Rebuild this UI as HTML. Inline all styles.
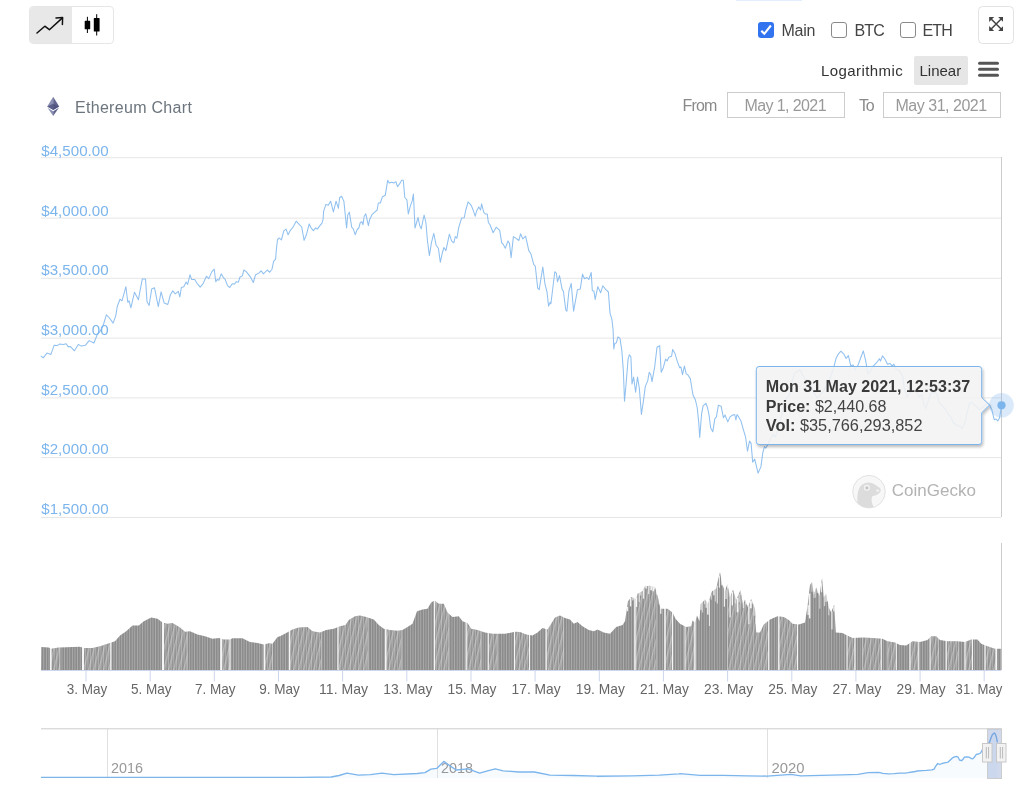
<!DOCTYPE html>
<html lang="en">
<head>
<meta charset="utf-8">
<title>Ethereum Chart</title>
<style>
html,body{margin:0;padding:0;background:#fff;}
body{width:1024px;height:795px;position:relative;overflow:hidden;font-family:"Liberation Sans",Arial,sans-serif;color:#333;}
.abs{position:absolute;white-space:nowrap;}
.btn-group{left:28.5px;top:6px;width:85px;height:38px;border:1px solid #e6e6e6;border-radius:4px;box-sizing:border-box;overflow:hidden;background:#fff;}
.btn-group .active{position:absolute;left:0;top:0;width:42.3px;height:36px;background:#e8e8e8;}
.fs-btn{left:978px;top:6px;width:36px;height:38px;border:1px solid #e2e2e2;border-radius:4.5px;box-sizing:border-box;background:#fff;}
.cb{width:16px;height:16px;box-sizing:border-box;border-radius:3px;top:22px;}
.cb.on{background:#3273f0;left:758.2px;top:22.2px;}
.cb.off{border:1px solid #8a8a8a;background:#fff;}
.lbl{font-size:16px;line-height:20px;top:21px;color:#444;}
.scale{font-size:15px;line-height:20px;top:61px;color:#333;}
.linear-bg{left:914px;top:56px;width:54px;height:29px;background:#e6e6e6;border-radius:2px;}
.dl{font-size:16px;line-height:20px;top:96px;color:#8a8a8a;}
.inp{top:91.5px;height:26.5px;border:1px solid #ccc;box-sizing:border-box;background:#fff;}
.inp span{position:absolute;top:3px;font-size:16px;line-height:20px;color:#999;}
.title{left:75px;top:98px;font-size:16px;line-height:20px;color:#6c757d;letter-spacing:0.3px;}
svg text{font-family:"Liberation Sans",Arial,sans-serif;}
</style>
</head>
<body>
<div class="abs" style="left:736px;top:0;width:66px;height:1px;background:#e3edfb;"></div>

<div class="abs btn-group">
  <div class="active"></div>
  <svg class="abs" style="left:0;top:0" width="83" height="36" viewBox="30.1 7 83 36">
    <path d="M37.1 33 L44.9 26.2 L49.5 29.7 L62.5 17.9" fill="none" stroke="#111" stroke-width="1.5" stroke-linecap="round" stroke-linejoin="round"/>
    <path d="M56.1 18 L62.7 17.5 L62.5 24.4" fill="none" stroke="#111" stroke-width="1.5" stroke-linecap="round" stroke-linejoin="round"/>
    <rect x="84.8" y="20.8" width="5.5" height="8.5" rx="0.6" fill="#000"/>
    <path d="M87.5 16.8 V33" stroke="#000" stroke-width="1"/>
    <rect x="93.9" y="18.1" width="5.8" height="13.4" rx="0.6" fill="#000"/>
    <path d="M96.8 14.2 V35.5" stroke="#000" stroke-width="1"/>
  </svg>
</div>

<div class="abs cb on" style="left:758px;">
  <svg width="16" height="16" viewBox="0 0 16 16"><path d="M3.3 8.8 L6.3 11.8 L12.9 3.5" fill="none" stroke="#fff" stroke-width="2.1" stroke-linejoin="miter"/></svg>
</div>
<div class="abs lbl" style="left:781.5px;letter-spacing:-0.25px;">Main</div>
<div class="abs cb off" style="left:831px;"></div>
<div class="abs lbl" style="left:854.5px;letter-spacing:-0.9px;">BTC</div>
<div class="abs cb off" style="left:900px;"></div>
<div class="abs lbl" style="left:922.5px;letter-spacing:-0.9px;">ETH</div>

<div class="abs fs-btn">
  <svg class="abs" style="left:10.2px;top:9.9px" width="14.3" height="14" viewBox="0 0 14 14">
    <path d="M2 2 L12 12 M12 2 L2 12" stroke="#444" stroke-width="1.5" fill="none"/>
    <path d="M0 0 H5 L0 5 Z M14 0 V5 L9 0 Z M0 14 V9 L5 14 Z M14 14 H9 L14 9 Z" fill="#444"/>
  </svg>
</div>

<div class="abs scale" id="log" style="left:821px;letter-spacing:0.42px;">Logarithmic</div>
<div class="abs linear-bg"></div>
<div class="abs scale" id="lin" style="left:919.5px;">Linear</div>
<svg class="abs" style="left:977px;top:60.6px" width="23" height="17" viewBox="0 0 23 17">
  <rect x="1" y="0.8" width="21" height="3" rx="1.5" fill="#555"/>
  <rect x="1" y="6.8" width="21" height="3" rx="1.5" fill="#555"/>
  <rect x="1" y="12.8" width="21" height="3" rx="1.5" fill="#555"/>
</svg>

<svg class="abs" style="left:46px;top:96px" width="14" height="21" viewBox="46 96 14 21">
  <path d="M53.2 96.7 L47.2 106.4 L53.2 109.9 Z" fill="#8a90b4"/>
  <path d="M53.2 96.7 L59.2 106.4 L53.2 109.9 Z" fill="#62668f"/>
  <path d="M47.2 106.4 L53.2 103.8 L59.2 106.4 L53.2 109.9 Z" fill="#4a4e7a" opacity="0.75"/>
  <path d="M47.5 107.8 L53.2 111.3 L53.2 115.9 Z" fill="#8a90b4"/>
  <path d="M58.9 107.8 L53.2 111.3 L53.2 115.9 Z" fill="#62668f"/>
</svg>
<div class="abs title" id="title">Ethereum Chart</div>

<div class="abs dl" id="from" style="left:682.5px;letter-spacing:-0.85px;">From</div>
<div class="abs inp" style="left:727px;width:117.5px;"><span id="d1" style="left:16.5px;letter-spacing:-0.6px;">May 1, 2021</span></div>
<div class="abs dl" id="to" style="left:859px;letter-spacing:-1.3px;">To</div>
<div class="abs inp" style="left:883px;width:117.5px;"><span id="d2" style="left:11.5px;letter-spacing:-0.48px;">May 31, 2021</span></div>

<svg class="abs" style="left:0;top:0" width="1024" height="795" viewBox="0 0 1024 795">
  <defs>
    <pattern id="bars" width="2.6" height="10" patternUnits="userSpaceOnUse">
      <rect width="2.6" height="10" fill="#b4b4b4"/>
      <rect width="1.9" height="10" fill="#8c8c8c"/>
    </pattern>
    <pattern id="diag" width="5" height="40" patternUnits="userSpaceOnUse" patternTransform="skewX(-14)">
      <rect x="0" y="0" width="1.6" height="40" fill="#fff" opacity="0.33"/>
      <rect x="2.6" y="0" width="0.8" height="40" fill="#fff" opacity="0.2"/>
    </pattern>
    <clipPath id="volclip"><path d="M41 670 L41.2 647.0 L48.8 647.5 L51.2 648.8 L58.8 647.5 L80.0 646.8 L83.8 648.0 L92.5 648.0 L100.0 646.2 L107.5 643.8 L115.0 641.2 L120.0 635.5 L126.2 631.2 L132.5 625.5 L138.8 625.5 L143.8 621.2 L151.2 617.5 L157.5 618.8 L162.5 622.5 L167.5 623.8 L172.5 623.0 L180.0 627.5 L185.0 631.8 L190.0 631.2 L197.5 634.5 L205.0 636.2 L212.5 638.8 L218.8 638.0 L223.8 639.5 L230.0 639.5 L232.5 638.2 L242.5 638.2 L250.0 642.0 L257.5 643.0 L263.8 644.5 L268.8 643.2 L272.5 643.8 L277.5 637.0 L280.0 636.2 L286.2 633.0 L292.5 629.5 L298.8 627.5 L307.5 627.0 L312.5 631.2 L320.0 632.5 L326.2 630.0 L333.8 628.8 L340.0 626.2 L345.5 625.0 L348.8 620.0 L355.0 616.2 L360.0 615.5 L366.2 617.0 L373.8 619.5 L378.8 625.0 L383.8 628.8 L390.0 630.0 L397.5 630.8 L402.5 630.0 L407.5 627.0 L412.5 623.8 L417.0 611.2 L422.5 609.5 L427.5 608.8 L431.2 602.5 L434.5 600.5 L438.8 603.8 L443.8 603.8 L447.5 612.5 L452.5 617.0 L458.8 616.2 L462.5 621.2 L467.5 623.0 L471.2 628.8 L477.5 630.0 L485.0 632.5 L492.5 633.8 L505.0 633.8 L515.0 631.8 L520.0 632.0 L526.2 634.5 L532.5 635.5 L537.5 632.5 L542.5 628.0 L547.5 629.5 L551.2 623.8 L555.0 617.5 L560.0 615.5 L565.0 618.0 L570.0 619.5 L573.8 623.8 L577.5 622.0 L582.5 626.2 L588.8 630.0 L593.8 631.2 L597.5 629.5 L603.8 632.5 L610.0 633.8 L616.2 627.0 L622.5 625.0 L625.0 621.2 L628.0 601.2 L631.2 597.0 L636.2 598.8 L637.5 593.8 L642.5 591.2 L645.0 586.2 L650.0 585.8 L655.0 587.0 L658.0 597.5 L660.5 608.8 L667.5 608.8 L672.5 612.5 L675.5 618.8 L680.0 623.8 L686.2 627.0 L691.2 626.2 L692.5 620.5 L695.0 622.5 L697.0 615.5 L699.5 621.2 L700.5 604.5 L705.0 599.5 L708.0 603.8 L712.0 591.2 L716.2 588.8 L718.0 580.0 L720.0 572.0 L722.0 583.8 L725.0 591.2 L727.5 583.8 L730.0 597.5 L733.0 589.5 L736.2 600.0 L740.5 590.0 L743.0 605.0 L745.0 599.5 L748.0 607.5 L751.2 598.8 L755.0 608.8 L756.2 632.5 L760.0 632.5 L763.8 624.5 L770.0 619.5 L777.5 616.2 L783.8 617.0 L788.8 620.0 L792.5 623.8 L798.8 624.5 L805.0 622.5 L807.5 606.2 L810.0 585.0 L812.0 582.0 L813.8 595.0 L816.2 587.5 L819.5 596.2 L822.0 578.0 L823.8 597.5 L826.2 593.8 L828.8 607.5 L831.2 612.5 L834.2 604.5 L835.8 632.5 L842.5 633.0 L846.2 635.0 L852.5 638.0 L862.5 637.5 L872.5 638.0 L882.5 638.8 L887.5 641.2 L895.0 642.5 L900.0 645.0 L906.2 645.5 L912.5 641.2 L920.0 642.0 L927.5 640.0 L931.2 636.2 L936.2 636.2 L940.0 640.0 L947.5 641.2 L957.5 641.2 L965.0 642.0 L971.2 639.5 L977.5 639.5 L981.2 643.8 L987.5 646.2 L995.0 648.8 L1001.2 648.8 L1001.2 670 Z"/></clipPath>
    <filter id="sh" x="-10%" y="-10%" width="120%" height="130%">
      <feGaussianBlur in="SourceAlpha" stdDeviation="1.5"/>
      <feOffset dx="1" dy="1.5"/>
      <feComponentTransfer><feFuncA type="linear" slope="0.3"/></feComponentTransfer>
      <feMerge><feMergeNode/><feMergeNode in="SourceGraphic"/></feMerge>
    </filter>
  </defs>
  <!-- grid -->
  <path d="M41 157.7 H1001" stroke="#e6e6e6" stroke-width="1"/><path d="M41 218.1 H1001" stroke="#e6e6e6" stroke-width="1"/><path d="M41 278.3 H1001" stroke="#e6e6e6" stroke-width="1"/><path d="M41 338.1 H1001" stroke="#e6e6e6" stroke-width="1"/><path d="M41 397.9 H1001" stroke="#e6e6e6" stroke-width="1"/><path d="M41 457.6 H1001" stroke="#e6e6e6" stroke-width="1"/><path d="M41 517.5 H1001" stroke="#e6e6e6" stroke-width="1"/>
  <g font-size="15" fill="#7cb5ec"><text x="41.3" y="155.8" textLength="67.3" lengthAdjust="spacingAndGlyphs">$4,500.00</text><text x="41.3" y="215.5" textLength="67.3" lengthAdjust="spacingAndGlyphs">$4,000.00</text><text x="41.3" y="275.2" textLength="67.3" lengthAdjust="spacingAndGlyphs">$3,500.00</text><text x="41.3" y="335.0" textLength="67.3" lengthAdjust="spacingAndGlyphs">$3,000.00</text><text x="41.3" y="394.7" textLength="67.3" lengthAdjust="spacingAndGlyphs">$2,500.00</text><text x="41.3" y="454.4" textLength="67.3" lengthAdjust="spacingAndGlyphs">$2,000.00</text><text x="41.3" y="514.1" textLength="67.3" lengthAdjust="spacingAndGlyphs">$1,500.00</text></g>
  <!-- crosshair -->
  <path d="M1001.5 157 V517 M1001.5 543 V670" stroke="#cccccc" stroke-width="1"/>
  <!-- price line -->
  <path d="M41.2 356.2 L43.1 357.8 L47.0 353.1 L50.9 354.4 L54.1 345.3 L57.2 345.6 L59.5 344.1 L63.4 344.4 L66.2 343.8 L68.1 346.6 L70.5 346.6 L74.4 350.8 L78.3 344.5 L81.4 346.1 L85.3 345.3 L89.2 340.6 L93.9 343.0 L97.0 335.2 L100.2 331.2 L103.3 325.0 L106.4 314.8 L109.5 318.0 L113.1 323.1 L115.8 315.6 L117.3 306.2 L120.0 299.2 L122.0 300.8 L125.9 286.7 L127.8 302.3 L129.1 300.8 L130.9 307.8 L134.5 292.2 L138.4 299.7 L142.3 278.9 L145.5 278.9 L147.0 301.6 L149.1 305.5 L151.7 289.1 L154.5 287.8 L158.3 306.6 L161.1 291.9 L164.2 303.1 L167.8 304.4 L170.5 294.5 L172.8 290.9 L175.2 293.8 L178.3 291.4 L179.8 296.9 L181.4 287.5 L183.8 286.7 L186.1 282.0 L187.7 284.4 L190.0 274.7 L191.6 279.4 L194.7 279.4 L197.0 283.3 L200.2 287.2 L203.3 283.3 L206.4 276.2 L208.8 278.6 L211.9 271.6 L214.2 269.2 L215.8 281.7 L217.3 279.4 L218.9 280.2 L221.2 273.9 L223.6 277.8 L225.2 279.4 L227.5 285.6 L229.8 287.5 L232.2 283.8 L234.5 284.1 L236.1 281.7 L238.4 282.2 L240.0 277.0 L242.3 275.9 L243.9 270.0 L246.2 271.6 L250.2 276.6 L253.3 282.5 L255.6 274.7 L258.8 273.1 L261.1 270.8 L263.4 273.9 L267.3 270.0 L269.7 272.3 L272.0 269.2 L273.6 261.4 L275.6 259.1 L276.2 251.2 L277.5 239.5 L279.4 238.0 L281.4 240.0 L283.8 230.9 L286.1 229.1 L288.1 234.8 L290.0 230.9 L293.1 227.0 L296.2 221.2 L299.4 224.7 L301.7 227.0 L304.1 240.3 L306.4 234.8 L309.2 223.9 L311.1 227.8 L313.4 230.6 L315.8 227.8 L317.3 229.1 L319.7 225.9 L322.0 223.1 L323.1 219.2 L323.6 211.4 L325.9 204.4 L328.3 205.2 L330.6 201.2 L333.4 211.9 L336.1 201.2 L338.4 208.3 L339.7 197.3 L340.0 197.5 L341.6 196.2 L343.9 201.4 L346.6 228.0 L347.8 214.7 L349.4 212.3 L351.7 227.2 L353.3 228.8 L355.2 234.7 L357.2 229.5 L358.8 228.0 L360.3 222.5 L361.9 221.7 L363.0 224.8 L364.2 216.2 L365.8 213.9 L368.4 225.6 L369.7 219.4 L372.0 214.7 L374.4 212.3 L377.2 210.0 L378.3 203.0 L380.3 203.0 L382.5 196.7 L385.3 195.2 L387.7 180.3 L389.2 183.1 L391.6 182.2 L393.9 183.1 L395.9 181.6 L397.5 186.6 L399.4 184.2 L401.7 180.3 L403.3 180.3 L404.8 197.5 L406.9 199.8 L408.3 213.9 L410.3 206.1 L412.2 200.9 L413.4 194.1 L415.0 228.0 L416.6 222.5 L418.1 217.5 L419.7 225.6 L421.2 228.8 L424.1 215.0 L425.9 222.5 L427.5 241.2 L429.4 255.6 L431.4 242.8 L433.8 233.4 L436.1 245.2 L438.4 248.3 L440.3 262.3 L442.3 253.0 L443.9 247.5 L445.9 250.6 L449.4 234.2 L451.7 241.2 L453.8 242.8 L455.3 236.6 L456.9 238.1 L458.8 227.2 L461.6 218.1 L464.2 217.8 L465.8 210.0 L468.1 201.9 L471.2 205.3 L472.8 209.2 L475.2 216.2 L476.7 210.8 L478.8 206.9 L480.6 210.0 L481.6 203.8 L483.8 212.3 L485.3 213.9 L487.2 213.9 L488.4 222.5 L490.0 224.8 L493.1 232.7 L496.2 227.2 L499.7 230.3 L501.7 242.8 L503.3 244.4 L505.3 248.3 L508.0 240.9 L509.5 243.6 L511.1 257.7 L513.4 236.6 L515.8 238.1 L518.9 240.5 L520.5 233.8 L522.8 238.9 L525.6 236.2 L528.8 250.6 L530.9 253.8 L533.8 264.7 L535.3 266.2 L537.7 288.1 L539.2 289.7 L542.8 267.0 L545.0 284.2 L547.0 292.0 L548.6 306.1 L550.2 302.2 L550.9 303.8 L554.8 271.7 L556.4 273.3 L557.5 281.9 L559.5 275.6 L562.2 289.7 L563.4 291.2 L565.8 310.0 L566.9 311.2 L568.9 291.2 L571.2 283.4 L573.6 311.2 L577.5 289.7 L580.3 288.9 L582.5 274.1 L584.5 278.8 L586.9 277.5 L588.8 279.5 L591.2 272.5 L592.3 290.5 L593.9 291.2 L595.2 299.4 L597.8 286.6 L600.6 292.8 L602.8 285.8 L605.6 289.4 L608.4 292.0 L610.0 313.1 L611.9 319.4 L613.1 330.0 L613.8 348.9 L614.8 343.4 L616.4 342.7 L618.0 336.9 L620.0 338.4 L621.9 351.2 L623.4 371.6 L624.5 401.2 L626.2 382.5 L628.1 359.1 L629.4 354.7 L630.9 356.7 L632.0 384.1 L633.6 377.0 L635.6 392.2 L637.5 377.0 L639.4 388.8 L641.4 414.5 L643.4 401.2 L645.3 386.4 L647.7 380.9 L649.2 372.3 L650.8 374.7 L652.0 381.7 L654.7 366.9 L657.0 347.3 L659.7 345.8 L661.2 372.3 L663.3 367.7 L665.6 359.1 L667.2 360.9 L668.8 357.2 L671.6 356.2 L672.7 349.4 L675.0 353.6 L677.3 361.4 L679.7 367.7 L680.9 366.9 L682.5 374.7 L684.4 366.1 L686.2 373.9 L687.8 374.7 L690.3 378.6 L693.0 395.0 L695.3 399.7 L697.2 407.5 L698.8 423.1 L699.7 437.5 L701.6 413.8 L703.1 405.9 L705.9 403.3 L707.5 407.5 L709.1 415.3 L710.6 427.8 L712.8 431.7 L714.8 418.8 L716.4 416.9 L718.4 405.2 L721.1 406.2 L723.4 417.7 L725.0 415.0 L727.8 421.9 L730.0 416.9 L732.3 415.3 L734.7 414.5 L735.9 420.0 L737.0 414.5 L738.6 416.9 L740.9 420.8 L743.3 429.4 L745.6 437.2 L747.5 451.2 L749.5 441.1 L751.1 443.4 L752.7 462.2 L754.7 459.1 L756.2 465.3 L758.1 473.1 L760.9 466.9 L762.8 452.8 L764.4 446.6 L765.9 448.1 L767.5 445.0 L770.6 438.8 L773.0 434.1 L775.3 437.2 L776.9 432.5 L780.0 421.6 L782.3 412.2 L784.7 401.2 L787.0 398.1 L790.2 393.4 L792.5 379.4 L794.8 373.1 L800.0 369.7 L804.7 379.1 L809.4 380.6 L813.3 391.6 L817.2 397.8 L823.4 391.6 L829.7 379.1 L833.6 368.1 L835.9 358.8 L838.3 354.1 L840.9 351.2 L843.8 354.1 L846.1 358.4 L848.4 355.6 L850.8 365.8 L853.1 365.0 L855.0 369.7 L858.1 365.0 L860.9 357.2 L863.3 350.9 L865.6 360.3 L868.0 373.6 L870.3 371.2 L873.4 365.8 L876.6 362.7 L879.4 358.8 L880.5 361.1 L882.5 355.9 L885.2 359.5 L887.5 364.2 L889.8 363.4 L892.2 365.8 L893.8 364.2 L896.1 368.9 L900.0 371.2 L903.1 377.5 L904.0 387.5 L906.9 396.9 L911.0 392.2 L915.7 391.0 L919.2 396.9 L921.6 394.5 L923.9 405.1 L925.7 408.6 L928.0 401.6 L930.4 393.9 L933.3 392.2 L936.8 393.4 L939.2 402.7 L941.5 405.1 L945.0 408.6 L948.5 414.5 L950.9 416.8 L953.2 422.7 L956.7 425.0 L960.3 426.8 L962.0 428.5 L964.9 422.7 L967.3 412.1 L969.6 402.7 L972.0 402.7 L974.3 405.1 L976.7 406.3 L979.0 409.8 L981.3 408.6 L984.9 405.1 L987.2 403.3 L989.6 405.1 L991.9 409.8 L994.2 419.7 L996.0 419.1 L997.8 420.9 L999.5 418.0 L1000.7 410.9 L1001.6 405.3" fill="none" stroke="#7cb5ec" stroke-width="1.05" stroke-linejoin="round" stroke-linecap="round" opacity="0.85"/>
  <!-- watermark -->
  <g>
    <circle cx="869" cy="491.7" r="16.3" fill="#f7f7f7" stroke="#e2e2e2" stroke-width="1"/>
    <path d="M857.5 503 C857 494 858 486 864 483.5 C869 481.5 873 483 877 486 C880 487.5 881.5 489.5 880.5 491.5 C879 494.5 875 495.5 872 496.5 C871 500 872 504 873.5 507 C867 509 861 507 857.5 503 Z" fill="#dcdcdc"/>
    <circle cx="866.9" cy="487.8" r="3" fill="#f4f4f4"/>
    <circle cx="866.9" cy="487.8" r="1.6" fill="#c4c4c4"/>
    <ellipse cx="877.6" cy="490.6" rx="1.6" ry="1.2" fill="#f2f2f2"/>
    <text x="891.8" y="495.8" font-size="17" fill="#b3b3b3" textLength="84.2" lengthAdjust="spacingAndGlyphs">CoinGecko</text>
  </g>
  <!-- volume -->
  <path d="M41 670 L41.2 647.0 L48.8 647.5 L51.2 648.8 L58.8 647.5 L80.0 646.8 L83.8 648.0 L92.5 648.0 L100.0 646.2 L107.5 643.8 L115.0 641.2 L120.0 635.5 L126.2 631.2 L132.5 625.5 L138.8 625.5 L143.8 621.2 L151.2 617.5 L157.5 618.8 L162.5 622.5 L167.5 623.8 L172.5 623.0 L180.0 627.5 L185.0 631.8 L190.0 631.2 L197.5 634.5 L205.0 636.2 L212.5 638.8 L218.8 638.0 L223.8 639.5 L230.0 639.5 L232.5 638.2 L242.5 638.2 L250.0 642.0 L257.5 643.0 L263.8 644.5 L268.8 643.2 L272.5 643.8 L277.5 637.0 L280.0 636.2 L286.2 633.0 L292.5 629.5 L298.8 627.5 L307.5 627.0 L312.5 631.2 L320.0 632.5 L326.2 630.0 L333.8 628.8 L340.0 626.2 L345.5 625.0 L348.8 620.0 L355.0 616.2 L360.0 615.5 L366.2 617.0 L373.8 619.5 L378.8 625.0 L383.8 628.8 L390.0 630.0 L397.5 630.8 L402.5 630.0 L407.5 627.0 L412.5 623.8 L417.0 611.2 L422.5 609.5 L427.5 608.8 L431.2 602.5 L434.5 600.5 L438.8 603.8 L443.8 603.8 L447.5 612.5 L452.5 617.0 L458.8 616.2 L462.5 621.2 L467.5 623.0 L471.2 628.8 L477.5 630.0 L485.0 632.5 L492.5 633.8 L505.0 633.8 L515.0 631.8 L520.0 632.0 L526.2 634.5 L532.5 635.5 L537.5 632.5 L542.5 628.0 L547.5 629.5 L551.2 623.8 L555.0 617.5 L560.0 615.5 L565.0 618.0 L570.0 619.5 L573.8 623.8 L577.5 622.0 L582.5 626.2 L588.8 630.0 L593.8 631.2 L597.5 629.5 L603.8 632.5 L610.0 633.8 L616.2 627.0 L622.5 625.0 L625.0 621.2 L628.0 601.2 L631.2 597.0 L636.2 598.8 L637.5 593.8 L642.5 591.2 L645.0 586.2 L650.0 585.8 L655.0 587.0 L658.0 597.5 L660.5 608.8 L667.5 608.8 L672.5 612.5 L675.5 618.8 L680.0 623.8 L686.2 627.0 L691.2 626.2 L692.5 620.5 L695.0 622.5 L697.0 615.5 L699.5 621.2 L700.5 604.5 L705.0 599.5 L708.0 603.8 L712.0 591.2 L716.2 588.8 L718.0 580.0 L720.0 572.0 L722.0 583.8 L725.0 591.2 L727.5 583.8 L730.0 597.5 L733.0 589.5 L736.2 600.0 L740.5 590.0 L743.0 605.0 L745.0 599.5 L748.0 607.5 L751.2 598.8 L755.0 608.8 L756.2 632.5 L760.0 632.5 L763.8 624.5 L770.0 619.5 L777.5 616.2 L783.8 617.0 L788.8 620.0 L792.5 623.8 L798.8 624.5 L805.0 622.5 L807.5 606.2 L810.0 585.0 L812.0 582.0 L813.8 595.0 L816.2 587.5 L819.5 596.2 L822.0 578.0 L823.8 597.5 L826.2 593.8 L828.8 607.5 L831.2 612.5 L834.2 604.5 L835.8 632.5 L842.5 633.0 L846.2 635.0 L852.5 638.0 L862.5 637.5 L872.5 638.0 L882.5 638.8 L887.5 641.2 L895.0 642.5 L900.0 645.0 L906.2 645.5 L912.5 641.2 L920.0 642.0 L927.5 640.0 L931.2 636.2 L936.2 636.2 L940.0 640.0 L947.5 641.2 L957.5 641.2 L965.0 642.0 L971.2 639.5 L977.5 639.5 L981.2 643.8 L987.5 646.2 L995.0 648.8 L1001.2 648.8 L1001.2 670 Z" fill="url(#bars)"/>
  <g clip-path="url(#volclip)"><rect x="50.8" y="560" width="9.2" height="110" fill="url(#diag)"/><rect x="83.0" y="560" width="27.8" height="110" fill="url(#diag)"/><rect x="163.0" y="560" width="24.5" height="110" fill="url(#diag)"/><rect x="221.2" y="560" width="8.8" height="110" fill="url(#diag)"/><rect x="264.5" y="560" width="8.0" height="110" fill="url(#diag)"/><rect x="289.5" y="560" width="31.8" height="110" fill="url(#diag)"/><rect x="338.0" y="560" width="30.0" height="110" fill="url(#diag)"/><rect x="385.8" y="560" width="15.5" height="110" fill="url(#diag)"/><rect x="434.5" y="560" width="14.2" height="110" fill="url(#diag)"/><rect x="466.2" y="560" width="15.0" height="110" fill="url(#diag)"/><rect x="488.2" y="560" width="9.2" height="110" fill="url(#diag)"/><rect x="514.5" y="560" width="15.0" height="110" fill="url(#diag)"/><rect x="546.2" y="560" width="17.5" height="110" fill="url(#diag)"/><rect x="635.0" y="560" width="21.2" height="110" fill="url(#diag)"/><rect x="665.0" y="560" width="7.5" height="110" fill="url(#diag)"/><rect x="685.0" y="560" width="10.0" height="110" fill="url(#diag)"/><rect x="727.5" y="560" width="41.2" height="110" fill="url(#diag)"/><rect x="778.8" y="560" width="18.8" height="110" fill="url(#diag)"/><rect x="847.0" y="560" width="8.0" height="110" fill="url(#diag)"/><rect x="862.5" y="560" width="18.8" height="110" fill="url(#diag)"/><rect x="887.5" y="560" width="8.8" height="110" fill="url(#diag)"/><rect x="910.0" y="560" width="8.8" height="110" fill="url(#diag)"/><rect x="930.0" y="560" width="8.8" height="110" fill="url(#diag)"/><rect x="946.2" y="560" width="12.5" height="110" fill="url(#diag)"/><rect x="965.0" y="560" width="7.5" height="110" fill="url(#diag)"/><rect x="985.0" y="560" width="11.2" height="110" fill="url(#diag)"/></g>
  <rect x="700.5" y="603.5" width="1.0" height="6.5" fill="#fff" opacity="0.81"/><rect x="701.9" y="601.9" width="1.2" height="10.7" fill="#fff" opacity="0.57"/><rect x="704.0" y="599.6" width="1.2" height="4.5" fill="#fff" opacity="0.58"/><rect x="705.4" y="599.1" width="1.6" height="8.7" fill="#fff" opacity="0.60"/><rect x="707.0" y="601.4" width="1.7" height="13.2" fill="#fff" opacity="0.78"/><rect x="708.9" y="599.8" width="0.9" height="26.2" fill="#fff" opacity="0.89"/><rect x="710.7" y="594.4" width="1.0" height="5.2" fill="#fff" opacity="0.67"/><rect x="713.2" y="589.5" width="1.4" height="5.8" fill="#fff" opacity="0.81"/><rect x="715.1" y="588.5" width="1.0" height="13.0" fill="#fff" opacity="0.57"/><rect x="716.7" y="585.7" width="1.2" height="17.9" fill="#fff" opacity="0.68"/><rect x="718.8" y="575.6" width="1.1" height="12.0" fill="#fff" opacity="0.87"/><rect x="721.2" y="578.0" width="1.4" height="7.3" fill="#fff" opacity="0.76"/><rect x="723.8" y="587.3" width="1.1" height="19.4" fill="#fff" opacity="0.94"/><rect x="725.3" y="589.4" width="1.5" height="9.6" fill="#fff" opacity="0.61"/><rect x="727.3" y="583.3" width="1.4" height="5.3" fill="#fff" opacity="0.86"/><rect x="729.5" y="593.6" width="1.2" height="23.8" fill="#fff" opacity="0.83"/><rect x="731.7" y="592.1" width="1.3" height="13.4" fill="#fff" opacity="0.89"/><rect x="734.4" y="593.0" width="1.4" height="10.4" fill="#fff" opacity="0.57"/><rect x="736.7" y="597.9" width="1.7" height="14.4" fill="#fff" opacity="0.88"/><rect x="738.5" y="593.8" width="1.4" height="8.5" fill="#fff" opacity="0.56"/><rect x="740.5" y="589.1" width="1.0" height="5.7" fill="#fff" opacity="0.57"/><rect x="742.9" y="603.4" width="1.1" height="4.6" fill="#fff" opacity="0.71"/><rect x="745.5" y="599.9" width="1.3" height="4.6" fill="#fff" opacity="0.77"/><rect x="748.1" y="606.1" width="1.6" height="18.1" fill="#fff" opacity="0.66"/><rect x="750.1" y="601.0" width="1.6" height="7.3" fill="#fff" opacity="0.93"/><rect x="751.6" y="598.6" width="1.1" height="5.2" fill="#fff" opacity="0.64"/><rect x="753.6" y="604.1" width="1.1" height="11.7" fill="#fff" opacity="0.55"/><rect x="755.5" y="618.0" width="1.4" height="5.8" fill="#fff" opacity="0.93"/><rect x="807.5" y="605.2" width="1.4" height="9.8" fill="#fff" opacity="0.82"/><rect x="808.9" y="593.5" width="1.5" height="24.9" fill="#fff" opacity="0.90"/><rect x="811.4" y="581.9" width="1.2" height="9.8" fill="#fff" opacity="0.59"/><rect x="813.6" y="593.1" width="1.0" height="4.9" fill="#fff" opacity="0.63"/><rect x="815.2" y="589.7" width="0.9" height="8.0" fill="#fff" opacity="0.55"/><rect x="816.7" y="587.7" width="1.2" height="5.3" fill="#fff" opacity="0.56"/><rect x="819.3" y="594.7" width="1.0" height="14.0" fill="#fff" opacity="0.65"/><rect x="821.1" y="583.3" width="1.0" height="9.0" fill="#fff" opacity="0.89"/><rect x="823.9" y="596.2" width="1.3" height="9.9" fill="#fff" opacity="0.58"/><rect x="825.4" y="594.1" width="1.1" height="7.7" fill="#fff" opacity="0.88"/><rect x="826.9" y="596.4" width="1.7" height="4.6" fill="#fff" opacity="0.76"/><rect x="828.4" y="604.8" width="0.9" height="10.5" fill="#fff" opacity="0.76"/><rect x="831.2" y="611.4" width="1.5" height="18.0" fill="#fff" opacity="0.65"/><rect x="833.1" y="606.7" width="1.5" height="4.7" fill="#fff" opacity="0.76"/><rect x="627.0" y="606.9" width="1.1" height="4.3" fill="#fff" opacity="0.87"/><rect x="629.8" y="597.9" width="1.5" height="8.5" fill="#fff" opacity="0.88"/><rect x="632.2" y="596.3" width="1.3" height="4.1" fill="#fff" opacity="0.69"/><rect x="633.5" y="596.8" width="1.1" height="2.6" fill="#fff" opacity="0.65"/><rect x="635.9" y="597.6" width="1.3" height="9.3" fill="#fff" opacity="0.92"/><rect x="638.7" y="592.2" width="1.2" height="9.9" fill="#fff" opacity="0.64"/><rect x="640.3" y="591.4" width="1.1" height="4.1" fill="#fff" opacity="0.80"/><rect x="642.9" y="589.4" width="1.3" height="9.3" fill="#fff" opacity="0.81"/><rect x="645.4" y="585.2" width="1.4" height="3.4" fill="#fff" opacity="0.91"/><rect x="647.9" y="585.0" width="1.3" height="9.0" fill="#fff" opacity="0.62"/><rect x="650.4" y="584.8" width="1.5" height="5.5" fill="#fff" opacity="0.94"/><rect x="652.3" y="585.3" width="1.7" height="6.0" fill="#fff" opacity="0.84"/><rect x="653.8" y="585.7" width="1.0" height="3.7" fill="#fff" opacity="0.91"/><rect x="656.4" y="590.8" width="1.6" height="3.7" fill="#fff" opacity="0.94"/><rect x="658.6" y="599.4" width="1.3" height="4.8" fill="#fff" opacity="0.60"/><rect x="660.0" y="605.3" width="1.4" height="8.5" fill="#fff" opacity="0.76"/>
  <rect x="50.0" y="560" width="1.5" height="110" fill="#fff" opacity="0.9"/><rect x="59.7" y="560" width="0.6" height="110" fill="#fff" opacity="0.6"/><rect x="82.0" y="560" width="2.0" height="110" fill="#fff" opacity="0.9"/><rect x="110.2" y="560" width="1.2" height="110" fill="#fff" opacity="0.9"/><rect x="162.0" y="560" width="2.0" height="110" fill="#fff" opacity="0.9"/><rect x="187.2" y="560" width="0.5" height="110" fill="#fff" opacity="0.6"/><rect x="220.2" y="560" width="2.0" height="110" fill="#fff" opacity="0.9"/><rect x="229.4" y="560" width="1.2" height="110" fill="#fff" opacity="0.9"/><rect x="263.6" y="560" width="1.7" height="110" fill="#fff" opacity="0.9"/><rect x="272.2" y="560" width="0.5" height="110" fill="#fff" opacity="0.6"/><rect x="288.9" y="560" width="1.2" height="110" fill="#fff" opacity="0.9"/><rect x="321.0" y="560" width="0.5" height="110" fill="#fff" opacity="0.6"/><rect x="337.4" y="560" width="1.2" height="110" fill="#fff" opacity="0.9"/><rect x="367.7" y="560" width="0.6" height="110" fill="#fff" opacity="0.6"/><rect x="385.0" y="560" width="1.5" height="110" fill="#fff" opacity="0.9"/><rect x="401.0" y="560" width="0.5" height="110" fill="#fff" opacity="0.6"/><rect x="433.9" y="560" width="1.2" height="110" fill="#fff" opacity="0.9"/><rect x="448.5" y="560" width="0.5" height="110" fill="#fff" opacity="0.6"/><rect x="465.6" y="560" width="1.2" height="110" fill="#fff" opacity="0.9"/><rect x="481.0" y="560" width="0.5" height="110" fill="#fff" opacity="0.6"/><rect x="487.6" y="560" width="1.2" height="110" fill="#fff" opacity="0.9"/><rect x="497.2" y="560" width="0.5" height="110" fill="#fff" opacity="0.6"/><rect x="513.9" y="560" width="1.2" height="110" fill="#fff" opacity="0.9"/><rect x="529.0" y="560" width="1.0" height="110" fill="#fff" opacity="0.9"/><rect x="545.6" y="560" width="1.2" height="110" fill="#fff" opacity="0.9"/><rect x="563.5" y="560" width="0.5" height="110" fill="#fff" opacity="0.6"/><rect x="634.2" y="560" width="1.5" height="110" fill="#fff" opacity="0.9"/><rect x="656.0" y="560" width="0.5" height="110" fill="#fff" opacity="0.6"/><rect x="664.2" y="560" width="1.5" height="110" fill="#fff" opacity="0.9"/><rect x="671.9" y="560" width="1.2" height="110" fill="#fff" opacity="0.9"/><rect x="684.5" y="560" width="1.0" height="110" fill="#fff" opacity="0.9"/><rect x="694.2" y="560" width="1.5" height="110" fill="#fff" opacity="0.9"/><rect x="727.2" y="560" width="0.5" height="110" fill="#fff" opacity="0.6"/><rect x="768.1" y="560" width="1.2" height="110" fill="#fff" opacity="0.9"/><rect x="778.1" y="560" width="1.2" height="110" fill="#fff" opacity="0.9"/><rect x="796.9" y="560" width="1.2" height="110" fill="#fff" opacity="0.9"/><rect x="846.5" y="560" width="1.0" height="110" fill="#fff" opacity="0.9"/><rect x="854.4" y="560" width="1.2" height="110" fill="#fff" opacity="0.9"/><rect x="862.2" y="560" width="0.5" height="110" fill="#fff" opacity="0.6"/><rect x="880.8" y="560" width="1.0" height="110" fill="#fff" opacity="0.9"/><rect x="887.2" y="560" width="0.5" height="110" fill="#fff" opacity="0.6"/><rect x="895.8" y="560" width="1.0" height="110" fill="#fff" opacity="0.9"/><rect x="909.4" y="560" width="1.2" height="110" fill="#fff" opacity="0.9"/><rect x="918.2" y="560" width="1.0" height="110" fill="#fff" opacity="0.9"/><rect x="929.5" y="560" width="1.0" height="110" fill="#fff" opacity="0.9"/><rect x="938.5" y="560" width="0.5" height="110" fill="#fff" opacity="0.6"/><rect x="945.6" y="560" width="1.2" height="110" fill="#fff" opacity="0.9"/><rect x="958.5" y="560" width="0.5" height="110" fill="#fff" opacity="0.6"/><rect x="964.4" y="560" width="1.2" height="110" fill="#fff" opacity="0.9"/><rect x="972.0" y="560" width="1.0" height="110" fill="#fff" opacity="0.9"/><rect x="984.4" y="560" width="1.2" height="110" fill="#fff" opacity="0.9"/><rect x="995.5" y="560" width="1.5" height="110" fill="#fff" opacity="0.9"/>
  <!-- x axis -->
  <path d="M41 670.5 H1001" stroke="#ccd6eb" stroke-width="1"/>
  <path d="M86.0 670 V681.5" stroke="#ccd6eb" stroke-width="1"/><path d="M150.2 670 V681.5" stroke="#ccd6eb" stroke-width="1"/><path d="M214.3 670 V681.5" stroke="#ccd6eb" stroke-width="1"/><path d="M278.5 670 V681.5" stroke="#ccd6eb" stroke-width="1"/><path d="M342.6 670 V681.5" stroke="#ccd6eb" stroke-width="1"/><path d="M406.8 670 V681.5" stroke="#ccd6eb" stroke-width="1"/><path d="M471.0 670 V681.5" stroke="#ccd6eb" stroke-width="1"/><path d="M535.1 670 V681.5" stroke="#ccd6eb" stroke-width="1"/><path d="M599.3 670 V681.5" stroke="#ccd6eb" stroke-width="1"/><path d="M663.4 670 V681.5" stroke="#ccd6eb" stroke-width="1"/><path d="M727.6 670 V681.5" stroke="#ccd6eb" stroke-width="1"/><path d="M791.8 670 V681.5" stroke="#ccd6eb" stroke-width="1"/><path d="M855.9 670 V681.5" stroke="#ccd6eb" stroke-width="1"/><path d="M920.1 670 V681.5" stroke="#ccd6eb" stroke-width="1"/><path d="M984.2 670 V681.5" stroke="#ccd6eb" stroke-width="1"/>
  <g font-size="14.5" fill="#666"><text x="87.0" y="694" text-anchor="middle" textLength="40.6" lengthAdjust="spacingAndGlyphs">3. May</text><text x="151.2" y="694" text-anchor="middle" textLength="40.6" lengthAdjust="spacingAndGlyphs">5. May</text><text x="215.3" y="694" text-anchor="middle" textLength="40.6" lengthAdjust="spacingAndGlyphs">7. May</text><text x="279.5" y="694" text-anchor="middle" textLength="40.6" lengthAdjust="spacingAndGlyphs">9. May</text><text x="343.6" y="694" text-anchor="middle" textLength="49.0" lengthAdjust="spacingAndGlyphs">11. May</text><text x="407.8" y="694" text-anchor="middle" textLength="49.0" lengthAdjust="spacingAndGlyphs">13. May</text><text x="472.0" y="694" text-anchor="middle" textLength="49.0" lengthAdjust="spacingAndGlyphs">15. May</text><text x="536.1" y="694" text-anchor="middle" textLength="49.0" lengthAdjust="spacingAndGlyphs">17. May</text><text x="600.3" y="694" text-anchor="middle" textLength="49.0" lengthAdjust="spacingAndGlyphs">19. May</text><text x="664.4" y="694" text-anchor="middle" textLength="49.0" lengthAdjust="spacingAndGlyphs">21. May</text><text x="728.6" y="694" text-anchor="middle" textLength="49.0" lengthAdjust="spacingAndGlyphs">23. May</text><text x="792.8" y="694" text-anchor="middle" textLength="49.0" lengthAdjust="spacingAndGlyphs">25. May</text><text x="856.9" y="694" text-anchor="middle" textLength="49.0" lengthAdjust="spacingAndGlyphs">27. May</text><text x="921.1" y="694" text-anchor="middle" textLength="49.0" lengthAdjust="spacingAndGlyphs">29. May</text><text x="1002.3" y="694" text-anchor="end" textLength="46.7" lengthAdjust="spacingAndGlyphs">31. May</text></g>
  <!-- navigator -->
  <path d="M41.0 777.4 L300.0 777.4 L331.2 777.0 L339.1 775.5 L346.9 773.1 L358.6 775.1 L370.3 774.7 L382.0 773.1 L393.8 774.7 L417.2 773.5 L425.0 772.7 L430.9 769.2 L436.7 768.4 L443.8 761.4 L450.4 766.1 L456.2 770.0 L468.0 768.8 L479.7 773.1 L487.5 770.8 L495.3 768.8 L503.1 770.8 L518.8 772.0 L534.4 772.0 L550.0 775.1 L573.4 775.5 L596.9 776.2 L632.0 775.9 L659.4 775.1 L678.9 773.9 L680.0 773.7 L700.2 775.4 L723.7 775.4 L747.2 775.8 L767.3 776.1 L780.8 775.1 L790.8 774.4 L800.9 775.8 L821.1 775.4 L841.2 774.8 L858.0 774.4 L868.1 772.7 L878.2 772.4 L880.0 772.7 L882.8 773.4 L888.4 773.8 L894.1 773.6 L899.7 773.1 L905.3 773.1 L908.1 772.7 L912.3 772.0 L915.2 771.5 L917.3 771.0 L922.2 770.7 L926.4 770.4 L929.2 770.1 L932.0 769.9 L934.1 769.1 L935.6 766.3 L937.7 763.5 L939.8 764.5 L941.9 763.5 L944.7 762.8 L948.2 762.1 L950.3 760.0 L952.4 757.9 L954.5 756.9 L956.7 756.5 L958.1 757.2 L959.5 760.0 L961.6 760.7 L963.0 759.3 L964.4 757.2 L966.5 756.8 L969.3 757.2 L971.4 758.6 L972.8 758.9 L974.9 756.5 L976.3 754.4 L978.5 754.0 L980.6 753.0 L982.0 750.2 L985.5 746.6 L988.3 743.8 L989.7 741.7 L991.1 737.5 L992.5 734.4 L994.2 732.9 L995.3 734.0 L996.5 737.5 L997.4 742.4 L997.4 778 L41 778 Z" fill="#7cb5ec" opacity="0.06"/>
  <path d="M107.5 729 V778 M437.5 729 V778 M767.5 729 V778" stroke="#e0e0e0" stroke-width="1"/>
  <g font-size="14" fill="#999">
    <text x="111" y="772.5" textLength="32" lengthAdjust="spacingAndGlyphs">2016</text>
    <text x="441" y="772.5" textLength="32" lengthAdjust="spacingAndGlyphs">2018</text>
    <text x="771.5" y="772.5" textLength="33" lengthAdjust="spacingAndGlyphs">2020</text>
  </g>
  <path d="M41.0 777.4 L300.0 777.4 L331.2 777.0 L339.1 775.5 L346.9 773.1 L358.6 775.1 L370.3 774.7 L382.0 773.1 L393.8 774.7 L417.2 773.5 L425.0 772.7 L430.9 769.2 L436.7 768.4 L443.8 761.4 L450.4 766.1 L456.2 770.0 L468.0 768.8 L479.7 773.1 L487.5 770.8 L495.3 768.8 L503.1 770.8 L518.8 772.0 L534.4 772.0 L550.0 775.1 L573.4 775.5 L596.9 776.2 L632.0 775.9 L659.4 775.1 L678.9 773.9 L680.0 773.7 L700.2 775.4 L723.7 775.4 L747.2 775.8 L767.3 776.1 L780.8 775.1 L790.8 774.4 L800.9 775.8 L821.1 775.4 L841.2 774.8 L858.0 774.4 L868.1 772.7 L878.2 772.4 L880.0 772.7 L882.8 773.4 L888.4 773.8 L894.1 773.6 L899.7 773.1 L905.3 773.1 L908.1 772.7 L912.3 772.0 L915.2 771.5 L917.3 771.0 L922.2 770.7 L926.4 770.4 L929.2 770.1 L932.0 769.9 L934.1 769.1 L935.6 766.3 L937.7 763.5 L939.8 764.5 L941.9 763.5 L944.7 762.8 L948.2 762.1 L950.3 760.0 L952.4 757.9 L954.5 756.9 L956.7 756.5 L958.1 757.2 L959.5 760.0 L961.6 760.7 L963.0 759.3 L964.4 757.2 L966.5 756.8 L969.3 757.2 L971.4 758.6 L972.8 758.9 L974.9 756.5 L976.3 754.4 L978.5 754.0 L980.6 753.0 L982.0 750.2 L985.5 746.6 L988.3 743.8 L989.7 741.7 L991.1 737.5 L992.5 734.4 L994.2 732.9 L995.3 734.0 L996.5 737.5 L997.4 742.4" fill="none" stroke="#7cb5ec" stroke-width="1.35" stroke-linejoin="round"/>
  <path d="M41 728.8 H1001.5" stroke="#cccccc" stroke-width="1"/>
  <rect x="987.5" y="729" width="14" height="49.5" fill="#6685c2" fill-opacity="0.3" stroke="#cccccc" stroke-width="1"/>
  <g>
    <rect x="982.5" y="743.5" width="9.5" height="18.5" fill="#f2f2f2" stroke="#c8c8c8" stroke-width="1"/>
    <path d="M986.3 747 V758.5 M988.6 747 V758.5" stroke="#aaa" stroke-width="0.8"/>
    <rect x="996.5" y="743.5" width="9.5" height="18.5" fill="#f2f2f2" stroke="#c8c8c8" stroke-width="1"/>
    <path d="M1000.3 747 V758.5 M1002.6 747 V758.5" stroke="#aaa" stroke-width="0.8"/>
  </g>
  <!-- marker -->
  <circle cx="1001.5" cy="405.3" r="12.3" fill="#7cb5ec" fill-opacity="0.28"/>
  <circle cx="1001.5" cy="405.3" r="4.1" fill="#7cb5ec"/>
  <!-- tooltip -->
  <path d="M759 366.5 H979 Q981.7 366.5 981.7 369.5 V397.5 L989.5 405 L981.7 412.7 V441.5 Q981.7 444.5 979 444.5 H759 Q756.3 444.5 756.3 441.5 V369.5 Q756.3 366.5 759 366.5 Z" fill="#f7f7f7" fill-opacity="0.86" stroke="#7cb5ec" stroke-width="1" filter="url(#sh)"/>
  <g font-size="16" fill="#444">
    <text x="765.8" y="391.9" font-weight="bold" fill="#3a3a3a" textLength="204.4" lengthAdjust="spacingAndGlyphs">Mon 31 May 2021, 12:53:37</text>
    <text x="765.8" y="411.7" textLength="120.6" lengthAdjust="spacingAndGlyphs"><tspan font-weight="bold" fill="#3a3a3a">Price:</tspan> $2,440.68</text>
    <text x="765.8" y="431.2" textLength="156.7" lengthAdjust="spacingAndGlyphs"><tspan font-weight="bold" fill="#3a3a3a">Vol:</tspan> $35,766,293,852</text>
  </g>
</svg>
</body>
</html>
